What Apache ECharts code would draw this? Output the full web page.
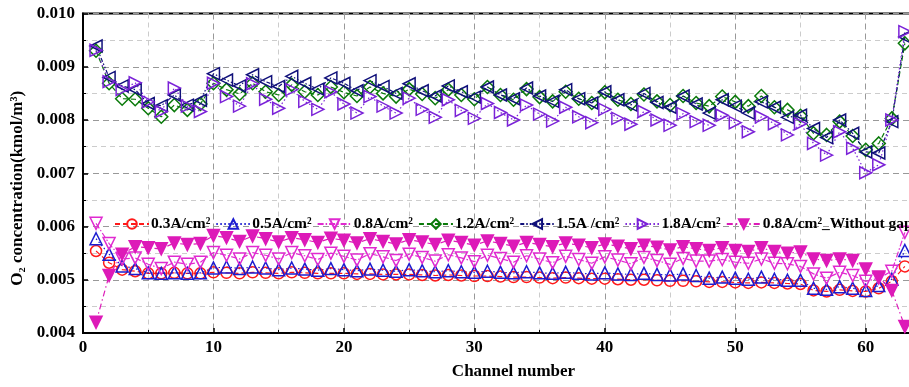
<!DOCTYPE html>
<html>
<head>
<meta charset="utf-8">
<script src="https://cdn.jsdelivr.net/npm/echarts@6/dist/echarts.min.js"></script>
<style>
  html, body { margin: 0; padding: 0; background: #fff; }
  #chart { width: 909px; height: 387px; }
</style>
</head>
<body>
<div id="chart"></div>
<script>
const channels = [1,2,3,4,5,6,7,8,9,10,11,12,13,14,15,16,17,18,19,20,21,22,23,24,25,26,27,28,29,30,31,32,33,34,35,36,37,38,39,40,41,42,43,44,45,46,47,48,49,50,51,52,53,54,55,56,57,58,59,60,61,62,63]

const yTicks = [0.004, 0.005, 0.006, 0.007, 0.008, 0.009, 0.010]
const xTicks = [0, 10, 20, 30, 40, 50, 60]

const cur03 = [0.00554,0.00532,0.00519,0.00516,0.00512,0.00512,0.00513,0.00512,0.00512,0.00514,0.00513,0.00512,0.00514,0.00513,0.00512,0.00514,0.00513,0.00512,0.00512,0.00512,0.00511,0.00511,0.00510,0.00510,0.00510,0.00509,0.00508,0.00509,0.00508,0.00507,0.00507,0.00506,0.00505,0.00505,0.00504,0.00503,0.00504,0.00503,0.00502,0.00502,0.00501,0.00500,0.00500,0.00499,0.00498,0.00498,0.00497,0.00496,0.00496,0.00495,0.00494,0.00495,0.00494,0.00493,0.00492,0.00480,0.00478,0.00481,0.00479,0.00478,0.00484,0.00497,0.00525]
const cur05 = [0.00577,0.00548,0.00526,0.00521,0.00513,0.00512,0.00513,0.00512,0.00513,0.00522,0.00524,0.00521,0.00524,0.00522,0.00519,0.00522,0.00520,0.00518,0.00521,0.00519,0.00517,0.00520,0.00518,0.00516,0.00519,0.00517,0.00515,0.00517,0.00515,0.00514,0.00516,0.00514,0.00513,0.00515,0.00513,0.00512,0.00514,0.00512,0.00511,0.00513,0.00511,0.00510,0.00512,0.00510,0.00509,0.00511,0.00508,0.00503,0.00505,0.00503,0.00501,0.00505,0.00501,0.00499,0.00499,0.00484,0.00482,0.00487,0.00484,0.00480,0.00489,0.00501,0.00555]
const cur08 = [0.00606,0.00568,0.00539,0.00541,0.00529,0.00521,0.00533,0.00529,0.00533,0.00551,0.00546,0.00539,0.00551,0.00546,0.00539,0.00551,0.00545,0.00538,0.00550,0.00544,0.00537,0.00549,0.00543,0.00536,0.00548,0.00542,0.00535,0.00547,0.00541,0.00534,0.00546,0.00540,0.00533,0.00545,0.00539,0.00532,0.00544,0.00538,0.00531,0.00543,0.00537,0.00530,0.00542,0.00536,0.00529,0.00540,0.00535,0.00535,0.00538,0.00533,0.00531,0.00539,0.00531,0.00530,0.00525,0.00511,0.00503,0.00514,0.00508,0.00497,0.00503,0.00516,0.00589]
const cur12 = [0.00930,0.00869,0.00840,0.00839,0.00822,0.00806,0.00828,0.00819,0.00830,0.00869,0.00857,0.00849,0.00869,0.00853,0.00847,0.00866,0.00853,0.00847,0.00862,0.00852,0.00845,0.00862,0.00850,0.00844,0.00858,0.00849,0.00841,0.00857,0.00847,0.00839,0.00862,0.00847,0.00838,0.00858,0.00843,0.00835,0.00853,0.00840,0.00832,0.00852,0.00838,0.00830,0.00848,0.00835,0.00828,0.00845,0.00832,0.00826,0.00844,0.00834,0.00826,0.00845,0.00824,0.00819,0.00808,0.00775,0.00772,0.00797,0.00770,0.00744,0.00756,0.00803,0.00944]
const cur15 = [0.00939,0.00880,0.00864,0.00857,0.00831,0.00827,0.00847,0.00828,0.00837,0.00887,0.00875,0.00864,0.00885,0.00872,0.00863,0.00882,0.00869,0.00858,0.00879,0.00869,0.00855,0.00874,0.00863,0.00850,0.00868,0.00855,0.00845,0.00864,0.00853,0.00843,0.00862,0.00847,0.00840,0.00860,0.00845,0.00835,0.00857,0.00840,0.00832,0.00853,0.00838,0.00828,0.00850,0.00833,0.00824,0.00845,0.00830,0.00813,0.00838,0.00826,0.00813,0.00834,0.00824,0.00805,0.00809,0.00784,0.00767,0.00800,0.00775,0.00740,0.00738,0.00797,0.00956]
const cur18 = [0.00931,0.00872,0.00857,0.00870,0.00834,0.00816,0.00860,0.00826,0.00816,0.00869,0.00844,0.00826,0.00868,0.00839,0.00822,0.00857,0.00835,0.00820,0.00853,0.00830,0.00813,0.00844,0.00826,0.00813,0.00841,0.00820,0.00805,0.00838,0.00818,0.00803,0.00831,0.00814,0.00800,0.00828,0.00811,0.00798,0.00824,0.00806,0.00795,0.00820,0.00803,0.00792,0.00816,0.00800,0.00790,0.00812,0.00797,0.00790,0.00809,0.00795,0.00778,0.00806,0.00793,0.00772,0.00793,0.00756,0.00734,0.00778,0.00747,0.00701,0.00716,0.00800,0.00966]
const cur08NoGap = [0.00420,0.00508,0.00548,0.00562,0.00560,0.00558,0.00569,0.00566,0.00568,0.00583,0.00579,0.00572,0.00582,0.00577,0.00571,0.00579,0.00575,0.00570,0.00578,0.00574,0.00569,0.00577,0.00572,0.00567,0.00575,0.00571,0.00566,0.00574,0.00570,0.00565,0.00573,0.00568,0.00563,0.00570,0.00566,0.00562,0.00569,0.00565,0.00560,0.00567,0.00563,0.00558,0.00565,0.00561,0.00556,0.00562,0.00558,0.00555,0.00560,0.00555,0.00553,0.00560,0.00553,0.00550,0.00552,0.00539,0.00536,0.00539,0.00536,0.00520,0.00505,0.00480,0.00412]

const seriesNames = ['0.3A/cm²', '0.5A/cm²', '0.8A/cm²', '1.2A/cm²', '1.5A /cm²', '1.8A/cm²', '0.8A/cm²_Without gap']

const font = 'Liberation Serif'

let chart = echarts.init(document.getElementById('chart'))

function pairs(vals) {
  return channels.map((c, i) => [c, vals[i]])
}

function makeSeries(name, vals, color, symbol, rotate, dash, filled, size) {
  return {
    name: name,
    type: 'line',
    data: pairs(vals),
    symbol: symbol,
    symbolRotate: rotate,
    symbolSize: size,
    showSymbol: true,
    animation: false,
    lineStyle: { color: color, width: 1.2, type: dash },
    itemStyle: {
      color: filled ? color : 'rgba(255,255,255,0)',
      borderColor: color,
      borderWidth: 1.5
    }
  }
}

let option = {
  animation: false,
  legend: {
    left: 109,
    top: 211,
    width: 1400,
    itemWidth: 34,
    itemHeight: 12,
    itemGap: 5,
    textStyle: { fontFamily: font, fontWeight: 'bold', fontSize: 15.5, color: '#000', padding: [0, 0, 0, -3] },
    data: seriesNames
  },
  grid: {
    left: 83,
    top: 13.5,
    width: 861,
    height: 319.5,
    outerBoundsMode: 'none',
    containLabel: false,
    show: true,
    borderColor: '#000',
    borderWidth: 2,
    backgroundColor: 'transparent'
  },
  xAxis: {
    type: 'value',
    min: xTicks[0],
    max: 66,
    interval: 10,
    name: 'Channel number',
    nameLocation: 'middle',
    nameGap: 30,
    nameTextStyle: { fontFamily: font, fontWeight: 'bold', fontSize: 17, color: '#000' },
    axisLine: { show: true, lineStyle: { color: '#000', width: 2 } },
    axisTick: { show: true, inside: true, length: 5, lineStyle: { color: '#000', width: 1.5 } },
    minorTick: { show: true, splitNumber: 2, length: 3, lineStyle: { color: '#000' } },
    axisLabel: {
      fontFamily: font, fontWeight: 'bold', fontSize: 17, color: '#000', margin: 6,
      formatter: v => xTicks.indexOf(v) >= 0 ? String(v) : ''
    },
    splitLine: { show: true, lineStyle: { color: '#999', type: [6, 4], width: 1 } },
    minorSplitLine: { show: true, lineStyle: { color: '#ccc', type: [5, 4], width: 1 } }
  },
  yAxis: {
    type: 'value',
    min: yTicks[0],
    max: yTicks[yTicks.length - 1],
    interval: 0.001,
    name: 'O₂ concentration(kmol/m³)',
    nameLocation: 'middle',
    nameGap: 56,
    nameRotate: 90,
    nameTextStyle: { fontFamily: font, fontWeight: 'bold', fontSize: 17, color: '#000', padding: [0, 30, 0, 0] },
    axisLine: { show: true, lineStyle: { color: '#000', width: 2 } },
    axisTick: { show: true, inside: true, length: 5, lineStyle: { color: '#000', width: 1.5 } },
    minorTick: { show: true, splitNumber: 2, length: 3, lineStyle: { color: '#000' } },
    axisLabel: {
      fontFamily: font, fontWeight: 'bold', fontSize: 17, color: '#000', margin: 8,
      formatter: v => v.toFixed(3)
    },
    splitLine: { show: true, lineStyle: { color: '#999', type: [6, 4], width: 1 } },
    minorSplitLine: { show: true, lineStyle: { color: '#ccc', type: [5, 4], width: 1 } }
  },
  series: [
    makeSeries(seriesNames[0], cur03, '#ff1a1a', 'circle', 0, [5, 3], false, 11),
    makeSeries(seriesNames[1], cur05, '#1c1cd0', 'triangle', 0, [1.5, 2.5], false, 12),
    makeSeries(seriesNames[2], cur08, '#e02ad0', 'triangle', 180, [6, 2, 1.5, 2], false, 12),
    makeSeries(seriesNames[3], cur12, '#0a7a0a', 'diamond', 0, [5, 3], false, 13),
    makeSeries(seriesNames[4], cur15, '#10107a', 'triangle', 90, [4, 2, 1.5, 2, 1.5, 2], false, 12),
    makeSeries(seriesNames[5], cur18, '#7b22d8', 'triangle', -90, [1.5, 2.5], false, 12),
    makeSeries(seriesNames[6], cur08NoGap, '#dd1ab8', 'triangle', 180, [6, 3, 1.5, 3], true, 12)
  ]
}

chart.setOption(option)
</script>
</body>
</html>
